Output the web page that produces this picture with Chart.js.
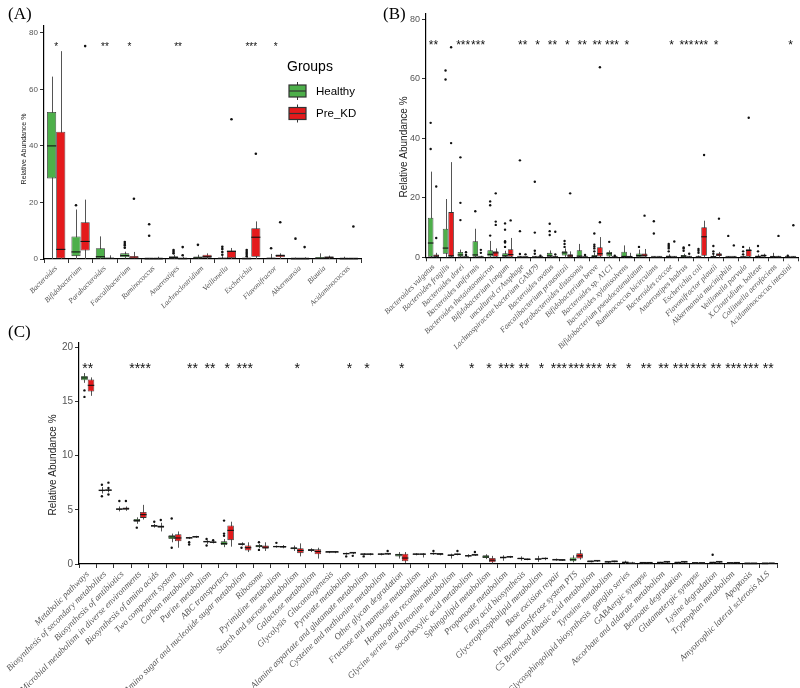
<!DOCTYPE html>
<html>
<head>
<meta charset="utf-8">
<script src="https://cdn.jsdelivr.net/npm/chart.js@4.4.0/dist/chart.umd.min.js"></script>
<style>
  html, body { margin: 0; padding: 0; background: #fff; }
  #wrap { position: relative; width: 800px; height: 688px; overflow: hidden; background: #fff; }
  canvas { position: absolute; }
  .tag { position: absolute; font-family: 'Liberation Serif', serif; font-size: 17px; line-height: 20px; color: #000; }
</style>
</head>
<body>
<div id="wrap">
  <canvas id="chartC" width="800" height="350" style="left:0;top:338px"></canvas>
  <canvas id="chartA" width="400" height="345" style="left:0;top:0"></canvas>
  <canvas id="chartB" width="420" height="360" style="left:380px;top:0"></canvas>
  <div class="tag" style="left:8px;top:4px">(A)</div>
  <div class="tag" style="left:383px;top:4px">(B)</div>
  <div class="tag" style="left:8px;top:322px">(C)</div>
</div>
<script>
(function() {
    const colors = { healthy: '#4daf4a', preKD: '#e41a1c' };

    // stats rows are [lower whisker, q1, median, q3, upper whisker]

    // ---- Panel A: genus level ----
    const aCats = ['Bacteroides', 'Bifidobacterium', 'Parabacteroides', 'Faecalibacterium', 'Ruminococcus',
        'Anaerostipes', 'Lachnoclostridium', 'Veillonella', 'Escherichia', 'Flavonifractor',
        'Akkermansia', 'Blautia', 'Acidaminococcus'];
    const aHealthy = [
        [0, 28.5, 40, 52, 64.5], [0, 1, 2.5, 8, 17.5], [0, 0, 0.8, 3.8, 8], [0.2, 0.6, 1.2, 2.0, 2.6],
        [0, 0, 0.05, 0.15, 0.3], [0, 0.1, 0.5, 1.0, 1.5], [0, 0.2, 0.4, 0.9, 1.5], [0, 0, 0.2, 0.5, 1.0],
        [0, 0, 0.1, 0.3, 0.6], [0, 0, 0.2, 0.4, 1.8], [0, 0, 0.05, 0.1, 0.5], [0, 0.1, 0.2, 0.7, 2.0],
        [0, 0, 0.05, 0.1, 0.8]
    ];
    const aHealthyOut = [[], [19], [], [4, 4.8, 5.3, 6], [8.2, 12.3], [2, 2.6, 3.2], [5],
        [1.5, 2.5, 3.5, 4.3], [1, 1.8, 2.5, 3.2], [3.8], [7.2], [], []];
    const aPreKD = [
        [0, 0, 3.4, 45, 73.5], [0, 3, 6.2, 13, 21], [0, 0, 0.2, 0.5, 1.3], [0, 0, 0.3, 1.1, 2.5],
        [0, 0, 0.05, 0.2, 0.8], [0, 0, 0.1, 0.4, 0.8], [0, 0.4, 0.8, 1.5, 2], [0, 0.3, 2.7, 3.0, 3.9],
        [0, 0.8, 7.7, 10.9, 13.3], [0, 0.6, 1.2, 1.6, 2], [0, 0, 0.05, 0.1, 0.6], [0, 0.2, 0.6, 0.9, 1.2],
        [0, 0, 0.05, 0.1, 0.3]
    ];
    const aPreKDOut = [[], [75.3], [], [21.3], [], [1.3, 4.2], [], [49.4], [37.2], [13], [4.2], [], [11.5]];
    const aStars = ['*', '', '**', '*', '', '**', '', '', '***', '*', '', '', ''];
    const aTicks = [0, 20, 40, 60, 80];

    // ---- Panel B: species level ----
    const bCats = ['Bacteroides vulgatus', 'Bacteroides fragilis', 'Bacteroides dorei', 'Bacteroides uniformis',
        'Bacteroides thetaiotaomicron', 'Bifidobacterium longum', 'uncultured crAssphage',
        'Lachnospiraceae bacterium GAM79', 'Bacteroides ovatus', 'Faecalibacterium prausnitzii',
        'Parabacteroides distasonis', 'Bifidobacterium breve', 'Bacteroides sp. A1C1', 'Bacteroides xylanisolvens',
        'Bifidobacterium pseudocatenulatum', 'Ruminococcus bicirculans', 'Bacteroides caccae', 'Anaerostipes hadrus',
        'Escherichia coli', 'Flavonifractor plautii', 'Akkermansia muciniphila', 'Veillonella parvula',
        'X.Clostridium. bolteae', 'Collinsella aerofaciens', 'Acidaminococcus intestini'];
    const bHealthy = [
        [0, 0, 4.8, 13.3, 28.8], [0, 1.2, 3.1, 9.6, 19.6], [0, 0.2, 0.8, 1.8, 2.6], [0, 0, 0.8, 5.4, 9.6],
        [0, 0.3, 1.0, 2.4, 5.5], [0, 0, 0.5, 1.4, 2.2], [0, 0, 0.05, 0.2, 0.4], [0, 0, 0.05, 0.2, 0.4],
        [0, 0.2, 0.5, 1.5, 2.3], [0, 0.6, 1.5, 2.0, 3.0], [0, 0.2, 0.4, 2.4, 4.5], [0, 0, 0.3, 0.8, 1.5],
        [0, 0.3, 1.2, 1.8, 2.3], [0, 0, 0.3, 1.9, 4.0], [0, 0.1, 0.6, 1.3, 2.6], [0, 0, 0.05, 0.1, 0.3],
        [0, 0, 0.2, 0.6, 1.0], [0, 0.1, 0.4, 0.8, 1.2], [0, 0, 0.1, 0.3, 0.6], [0, 0, 0.2, 0.4, 0.8],
        [0, 0, 0.05, 0.1, 0.4], [0, 0, 0.1, 0.3, 0.6], [0, 0, 0.3, 0.5, 1.0], [0, 0, 0.2, 0.5, 1.5],
        [0, 0, 0.05, 0.1, 0.3]
    ];
    const bHealthyOut = [[36.4, 45.2], [59.8, 62.8], [12.5, 18.3, 33.6], [15.5], [7.3, 17.5, 18.8],
        [3.5, 5, 5.4, 9.3, 11.4], [1.1, 8.8, 32.6], [1.2, 2.2, 8.3, 25.4], [7.5, 8.8, 11.3], [3.5, 4.5, 5.5],
        [], [2, 3, 3.6, 4.2, 8], [5.2], [], [3.5], [8.0, 12.1], [2, 3, 3.5, 4, 4.5], [2.2, 3.0, 3.3],
        [1.5, 2.2, 2.8], [1.2, 2.0, 3.8], [7.2], [1.0, 2.0, 3.5], [2.0, 3.8], [], [0.5]];
    const bPreKD = [
        [0, 0, 0.4, 0.9, 1.5], [0, 0, 0.5, 15.2, 32], [0, 0, 0.05, 0.2, 0.4], [0, 0, 0.05, 0.2, 0.5],
        [0, 0.2, 1.5, 2.0, 3.0], [0, 0, 0.9, 2.7, 6.5], [0, 0, 0.05, 0.1, 0.3], [0, 0, 0.05, 0.1, 0.3],
        [0, 0, 0.1, 0.3, 0.6], [0, 0.1, 0.5, 1.0, 2.0], [0, 0, 0.05, 0.2, 0.4], [0, 0.3, 1.2, 3.4, 6.8],
        [0, 0, 0.05, 0.2, 0.4], [0, 0, 0.2, 0.5, 1.5], [0, 0.2, 0.7, 1.3, 2.8], [0, 0, 0.05, 0.1, 0.3],
        [0, 0, 0.05, 0.1, 0.4], [0, 0, 0.05, 0.2, 0.5], [0, 0.5, 6.9, 10.1, 12.3], [0, 0.4, 0.8, 1.4, 1.8],
        [0, 0, 0.05, 0.1, 0.4], [0, 0.2, 2.3, 2.7, 3.5], [0, 0.2, 0.6, 0.9, 1.2], [0, 0, 0.1, 0.2, 0.5],
        [0, 0, 0.05, 0.1, 0.3]
    ];
    const bPreKDOut = [[6.5, 23.8], [38.4, 70.6], [0.8, 1.7], [1.5, 2.5], [10.9, 12.0, 21.5], [12.4], [1.0],
        [0.5], [1.0, 8.6], [21.5], [0.8], [11.8, 63.9], [0.5], [], [14.0], [], [5.3], [1.2, 4.1], [34.4],
        [13.0], [4.0], [46.9], [], [7.2], [10.8]];
    const bStars = ['**', '', '***', '***', '', '', '**', '*', '**', '*', '**', '**', '***', '*', '', '',
        '*', '***', '***', '*', '', '', '', '', '*'];
    const bTicks = [0, 20, 40, 60, 80];

    // ---- Panel C: KEGG pathways ----
    const cCats = ['Metabolic pathways', 'Biosynthesis of secondary metabolites', 'Biosynthesis of antibiotics',
        'Microbial metabolism in diverse environments', 'Biosynthesis of amino acids', 'Two component system',
        'Carbon metabolism', 'Purine metabolism', 'ABC transporters', 'Amino sugar and nucleotide sugar metabolism',
        'Ribosome', 'Pyrimidine metabolism', 'Starch and sucrose metabolism', 'Galactose metabolism',
        'Glycolysis  Gluconeogenesis', 'Pyruvate metabolism', 'Alanine aspartate and glutamate metabolism',
        'Cysteine and methionine metabolism', 'Other glycan degradation', 'Fructose and mannose metabolism',
        'Homologous recombination', 'Glycine serine and threonine metabolism', 'socarboxylic acid metabolism',
        'Sphingolipid metabolism', 'Propanoate metabolism', 'Fatty acid biosynthesis',
        'Glycerophospholipid metabolism', 'Base excision repair', 'Phosphotransferase system PTS',
        'C5 Branched dibasic acid metabolism', 'Tyrosine metabolism',
        'Glycosphingolipid biosynthesis  ganglio series', 'GABAergic synapse', 'Ascorbate and aldarate metabolism',
        'Benzoate degradation', 'Glutamatergic synapse', 'Lysine degradation', 'Tryptophan metabolism',
        'Apoptosis', 'Amyotrophic lateral sclerosis ALS'];
    const cHealthy = [
        [16.7, 16.93, 17.15, 17.33, 17.6], [6.5, 6.7, 6.8, 6.85, 7.1], [4.85, 5.0, 5.05, 5.15, 5.3],
        [3.7, 3.9, 4.0, 4.15, 4.3], [3.35, 3.45, 3.5, 3.55, 3.7], [2.0, 2.3, 2.5, 2.65, 2.8],
        [2.3, 2.35, 2.4, 2.45, 2.5], [1.85, 2.0, 2.05, 2.1, 2.2], [1.55, 1.75, 1.9, 2.1, 2.3],
        [1.7, 1.75, 1.85, 1.9, 2.0], [1.45, 1.55, 1.65, 1.75, 1.85], [1.5, 1.55, 1.6, 1.65, 1.7],
        [1.2, 1.35, 1.45, 1.55, 1.7], [1.1, 1.2, 1.3, 1.35, 1.45], [1.0, 1.05, 1.1, 1.15, 1.2],
        [0.85, 0.9, 0.95, 1.0, 1.05], [0.8, 0.85, 0.9, 0.95, 1.0], [0.8, 0.85, 0.9, 0.95, 1.0],
        [0.5, 0.7, 0.85, 0.95, 1.1], [0.8, 0.85, 0.9, 0.95, 1.0], [0.85, 0.9, 0.95, 1.0, 1.05],
        [0.5, 0.75, 0.8, 0.85, 0.95], [0.6, 0.7, 0.75, 0.8, 0.9], [0.45, 0.55, 0.65, 0.8, 0.9],
        [0.3, 0.5, 0.6, 0.7, 0.8], [0.3, 0.45, 0.5, 0.55, 0.7], [0.2, 0.4, 0.45, 0.5, 0.75],
        [0.3, 0.35, 0.38, 0.4, 0.5], [0.15, 0.25, 0.4, 0.6, 0.8], [0.15, 0.2, 0.22, 0.25, 0.3],
        [0.1, 0.15, 0.18, 0.2, 0.25], [0.0, 0.1, 0.15, 0.2, 0.3], [0.05, 0.08, 0.1, 0.12, 0.15],
        [0.05, 0.1, 0.12, 0.15, 0.2], [0.05, 0.1, 0.12, 0.15, 0.2], [0.02, 0.05, 0.07, 0.1, 0.12],
        [0.05, 0.1, 0.12, 0.15, 0.2], [0.02, 0.05, 0.07, 0.1, 0.12], [0.01, 0.02, 0.03, 0.05, 0.06],
        [0.01, 0.02, 0.03, 0.05, 0.06]
    ];
    const cHealthyOut = [[16.0, 15.4], [6.25, 7.3], [5.8], [3.35], [3.9], [1.5, 4.2], [1.8, 2.0], [1.7, 2.3],
        [2.6, 2.8, 4.0], [1.5], [1.3, 2.0], [1.95], [], [], [], [0.7], [0.7], [], [], [], [1.2], [], [], [],
        [], [], [], [], [], [], [], [], [], [], [], [], [0.85], [], [], []];
    const cPreKD = [
        [15.5, 15.9, 16.47, 17.0, 17.2], [6.6, 6.75, 6.8, 6.85, 6.95], [4.9, 5.0, 5.1, 5.2, 5.3],
        [4.1, 4.25, 4.55, 4.8, 5.45], [3.0, 3.35, 3.45, 3.55, 3.8], [1.5, 2.1, 2.4, 2.75, 3.0],
        [2.4, 2.45, 2.5, 2.55, 2.6], [1.9, 1.95, 2.0, 2.05, 2.15], [1.6, 2.2, 3.1, 3.55, 3.9],
        [1.1, 1.25, 1.5, 1.7, 2.0], [1.2, 1.4, 1.55, 1.7, 2.0], [1.45, 1.5, 1.6, 1.65, 1.75],
        [0.7, 1.0, 1.25, 1.45, 1.9], [0.5, 0.9, 1.15, 1.35, 1.5], [1.0, 1.05, 1.1, 1.15, 1.2],
        [0.9, 1.0, 1.02, 1.05, 1.1], [0.8, 0.85, 0.9, 0.95, 1.0], [0.85, 0.9, 0.92, 0.95, 1.0],
        [0.1, 0.25, 0.55, 0.95, 1.1], [0.6, 0.85, 0.9, 0.95, 1.0], [0.8, 0.88, 0.9, 0.93, 1.0],
        [0.8, 0.85, 0.88, 0.9, 0.95], [0.75, 0.8, 0.82, 0.85, 0.9], [0.05, 0.15, 0.35, 0.55, 0.75],
        [0.55, 0.6, 0.65, 0.7, 0.75], [0.35, 0.4, 0.42, 0.45, 0.5], [0.35, 0.45, 0.5, 0.55, 0.6],
        [0.3, 0.33, 0.35, 0.37, 0.4], [0.4, 0.5, 0.75, 1.0, 1.3], [0.2, 0.25, 0.28, 0.3, 0.35],
        [0.15, 0.2, 0.22, 0.25, 0.3], [0.0, 0.02, 0.05, 0.1, 0.2], [0.05, 0.08, 0.1, 0.12, 0.15],
        [0.1, 0.15, 0.18, 0.2, 0.25], [0.1, 0.15, 0.18, 0.2, 0.25], [0.02, 0.04, 0.05, 0.07, 0.1],
        [0.1, 0.15, 0.18, 0.2, 0.25], [0.05, 0.08, 0.1, 0.15, 0.18], [0.01, 0.02, 0.03, 0.04, 0.05],
        [0.02, 0.03, 0.05, 0.06, 0.08]
    ];
    const cPreKDOut = [[], [6.4, 7.0, 7.5], [5.8], [], [4.05], [], [], [2.2], [], [], [], [], [], [], [],
        [0.75], [], [1.2], [], [], [], [1.2], [1.1], [], [], [], [], [], [], [], [], [], [], [], [], [], [],
        [], [], []];
    const cStars = ['**', '', '', '****', '', '', '**', '**', '*', '***', '', '', '*', '', '', '*', '*', '',
        '*', '', '', '', '*', '*', '***', '**', '*', '***', '***', '***', '**', '*', '**', '**', '***', '***',
        '**', '***', '***', '**'];
    const cTicks = [0, 5, 10, 15, 20];

    // whiskers behind the boxes, medians / outliers / significance stars on top
    const boxplotPlugin = {
        id: 'boxplot',
        beforeDatasetsDraw(chart) {
            const ctx = chart.ctx;
            const y = chart.scales.y;
            ctx.save();
            ctx.strokeStyle = '#555';
            ctx.lineWidth = 1;
            chart.data.datasets.forEach((ds, di) => {
                chart.getDatasetMeta(di).data.forEach((bar, i) => {
                    const s = ds.stats[i];
                    const x = Math.round(bar.x) + 0.5;
                    ctx.beginPath();
                    ctx.moveTo(x, y.getPixelForValue(s[0]));
                    ctx.lineTo(x, y.getPixelForValue(s[4]));
                    ctx.stroke();
                });
            });
            ctx.restore();
        },
        afterDatasetsDraw(chart, args, opts) {
            const ctx = chart.ctx;
            const x = chart.scales.x, y = chart.scales.y;
            ctx.save();
            chart.data.datasets.forEach((ds, di) => {
                chart.getDatasetMeta(di).data.forEach((bar, i) => {
                    const s = ds.stats[i];
                    const half = bar.width / 2;
                    const my = y.getPixelForValue(s[2]);
                    ctx.strokeStyle = '#111';
                    ctx.lineWidth = 1.1;
                    ctx.beginPath();
                    ctx.moveTo(bar.x - half, my);
                    ctx.lineTo(bar.x + half, my);
                    ctx.stroke();
                    ctx.fillStyle = '#111';
                    ds.outliers[i].forEach(v => {
                        ctx.beginPath();
                        ctx.arc(bar.x, y.getPixelForValue(v), opts.dot, 0, Math.PI * 2);
                        ctx.fill();
                    });
                });
            });
            ctx.fillStyle = '#111';
            ctx.textAlign = 'center';
            ctx.textBaseline = 'alphabetic';
            ctx.font = opts.starSize + 'px "Liberation Sans", Arial, sans-serif';
            opts.stars.forEach((st, i) => {
                if (!st) return;
                ctx.fillText(st, x.getPixelForValue(i), y.getPixelForValue(opts.starY) + opts.starSize * 0.55);
            });
            ctx.restore();
        },
        afterDraw(chart, args, opts) {
            // y-axis title, placed a little below the axis centre as in the original
            const ctx = chart.ctx;
            ctx.save();
            ctx.translate(opts.titleX, opts.titleY);
            ctx.rotate(-Math.PI / 2);
            ctx.fillStyle = '#222';
            ctx.textAlign = 'center';
            ctx.textBaseline = 'middle';
            ctx.font = opts.titleSize + 'px "Liberation Sans", Arial, sans-serif';
            ctx.fillText('Relative Abundance %', 0, 0);
            ctx.restore();
        }
    };

    // "Groups" legend sitting inside panel A
    const groupLegendPlugin = {
        id: 'groupLegend',
        afterDraw(chart) {
            const ctx = chart.ctx;
            ctx.save();
            ctx.fillStyle = '#000';
            ctx.textBaseline = 'middle';
            ctx.textAlign = 'left';
            ctx.font = '14px "Liberation Sans", Arial, sans-serif';
            ctx.fillText('Groups', 287, 67);
            ctx.font = '11.5px "Liberation Sans", Arial, sans-serif';
            [['Healthy', colors.healthy], ['Pre_KD', colors.preKD]].forEach((g, j) => {
                const cy = 91 + j * 22.5;
                ctx.strokeStyle = '#333';
                ctx.lineWidth = 1;
                ctx.beginPath();
                ctx.moveTo(297.5, cy - 9); ctx.lineTo(297.5, cy + 9);
                ctx.stroke();
                ctx.fillStyle = g[1];
                ctx.fillRect(289, cy - 6, 17, 12);
                ctx.lineWidth = 1.2;
                ctx.strokeRect(289, cy - 6, 17, 12);
                ctx.beginPath();
                ctx.moveTo(289, cy); ctx.lineTo(306, cy);
                ctx.stroke();
                ctx.fillStyle = '#000';
                ctx.fillText(g[0], 316, cy + 0.5);
            });
            ctx.restore();
        }
    };

    function boxDataset(label, stats, outliers, color) {
        return {
            label: label,
            data: stats.map(s => [s[1], s[3]]),
            stats: stats,
            outliers: outliers,
            backgroundColor: color,
            borderColor: '#333',
            borderWidth: 0.8,
            borderSkipped: false,
            minBarLength: 1.5,
            categoryPercentage: 0.75,
            barPercentage: 1
        };
    }

    function boxChart(id, cats, healthy, healthyOut, preKD, preKDOut, stars, opt) {
        return new Chart(document.getElementById(id), {
            type: 'bar',
            data: {
                labels: cats,
                datasets: [
                    boxDataset('Healthy', healthy, healthyOut, colors.healthy),
                    boxDataset('Pre_KD', preKD, preKDOut, colors.preKD)
                ]
            },
            options: {
                responsive: false,
                animation: false,
                events: [],
                layout: { padding: { top: opt.top, right: opt.right, left: 0, bottom: 0 } },
                plugins: {
                    legend: { display: false },
                    tooltip: { enabled: false },
                    boxplot: {
                        stars: stars, starY: opt.starY, starSize: opt.starSize, dot: opt.dot,
                        titleX: opt.titleX, titleY: opt.titleY, titleSize: opt.titleSize
                    }
                },
                scales: {
                    x: {
                        offset: true,
                        grid: { drawOnChartArea: false, drawTicks: true, tickLength: 4, color: '#333' },
                        border: { display: true, color: '#000', width: 1.2 },
                        ticks: {
                            autoSkip: false,
                            minRotation: 45,
                            maxRotation: 45,
                            padding: 1,
                            color: '#555',
                            font: { family: "'Liberation Serif', serif", style: 'italic', size: opt.labelSize }
                        },
                        afterFit: (axis) => {
                            axis.height = opt.xHeight;
                            axis.paddingLeft = 0;
                            axis.paddingRight = 0;
                        }
                    },
                    y: {
                        min: 0,
                        max: opt.yMax,
                        afterBuildTicks: (axis) => { axis.ticks = opt.yTicks.map(v => ({ value: v })); },
                        grid: { drawOnChartArea: false, drawTicks: true, tickLength: 4, color: '#333' },
                        border: { display: true, color: '#000', width: 1.2 },
                        ticks: {
                            padding: 2,
                            color: '#555',
                            font: { family: "'Liberation Sans', Arial, sans-serif", size: opt.tickSize }
                        },
                        title: { display: false },
                        afterFit: (axis) => {
                            axis.width = opt.yWidth;
                            axis.paddingTop = 0;
                            axis.paddingBottom = 0;
                        }
                    }
                }
            },
            plugins: opt.legend ? [boxplotPlugin, groupLegendPlugin] : [boxplotPlugin]
        });
    }

    boxChart('chartA', aCats, aHealthy, aHealthyOut, aPreKD, aPreKDOut, aStars, {
        top: 26, right: 39, yWidth: 44, xHeight: 86, yMax: 82.4, yTicks: aTicks,
        starY: 75.8, starSize: 10, dot: 1.3, labelSize: 7.5, tickSize: 8,
        titleSize: 7, titleX: 24, titleY: 149, legend: true
    });
    boxChart('chartB', bCats, bHealthy, bHealthyOut, bPreKD, bPreKDOut, bStars, {
        top: 14, right: 2, yWidth: 46, xHeight: 102.7, yMax: 81.8, yTicks: bTicks,
        starY: 72.1, starSize: 12, dot: 1.2, labelSize: 8, tickSize: 9,
        titleSize: 10, titleX: 24, titleY: 147
    });
    boxChart('chartC', cCats, cHealthy, cHealthyOut, cPreKD, cPreKDOut, cStars, {
        top: 5, right: 23, yWidth: 79, xHeight: 124, yMax: 20.37, yTicks: cTicks,
        starY: 18.36, starSize: 14, dot: 1.2, labelSize: 9, tickSize: 10,
        titleSize: 10, titleX: 53, titleY: 127
    });
})();
</script>
</body>
</html>
